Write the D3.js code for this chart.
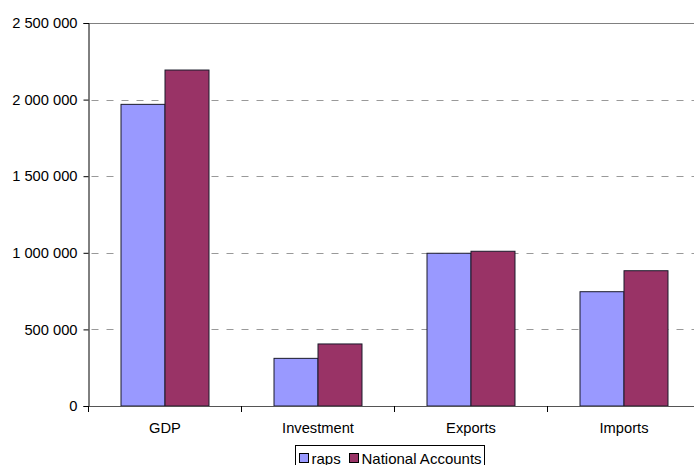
<!DOCTYPE html>
<html>
<head>
<meta charset="utf-8">
<script src="https://cdn.jsdelivr.net/npm/d3@7"></script>
<style>
  body { margin: 0; background: #fff; }
  svg { display: block; font-family: "Liberation Sans", Arial, sans-serif; }
</style>
</head>
<body>
<div id="chart"></div>
<script>
// data
var categories = ["GDP", "Investment", "Exports", "Imports"];
var seriesNames = ["raps", "National Accounts"];
var rapsValues = [1969000, 311000, 997000, 746000];
var naValues = [2193000, 405000, 1010000, 883000];
var yTicks = [0, 500000, 1000000, 1500000, 2000000, 2500000];
var colors = ["#9999ff", "#993366"];

var width = 694, height = 465;
var plotLeft = 88.5, plotRight = 700.5, plotTop = 23, plotBottom = 406;

var svg = d3.select("#chart").append("svg")
    .attr("width", width)
    .attr("height", height);

var x = d3.scaleBand().domain(categories).range([plotLeft, plotRight]).padding(0);
var x1 = d3.scaleBand().domain(seriesNames).range([0, x.bandwidth()]).paddingInner(0).paddingOuter(0.739);
var y = d3.scaleLinear().domain([0, 2500000]).range([plotBottom, plotTop]);

var fmt = function (v) { return d3.format(",")(v).replace(/,/g, " "); };

// grid lines
svg.append("g")
    .selectAll("line")
    .data(yTicks.filter(d => d > 0))
    .join("line")
    .attr("x1", plotLeft)
    .attr("x2", width)
    .attr("y1", d => Math.round(y(d)) + 0.5)
    .attr("y2", d => Math.round(y(d)) + 0.5)
    .attr("stroke", d => d == 2500000 ? "#808080" : "#999")
    .attr("stroke-dasharray", d => d == 2500000 ? null : "7,8")
    .attr("stroke-dashoffset", -3);

// bars
var rows = categories.map((c, i) => ({ cat: c, vals: [rapsValues[i], naValues[i]] }));
svg.append("g")
    .selectAll("g")
    .data(rows)
    .join("g")
    .attr("transform", d => `translate(${x(d.cat)},0)`)
    .selectAll("rect")
    .data(d => d.vals.map((v, j) => ({ name: seriesNames[j], v: v, j: j })))
    .join("rect")
    .attr("x", d => x1(d.name))
    .attr("y", d => y(d.v))
    .attr("width", x1.bandwidth())
    .attr("height", d => plotBottom - y(d.v))
    .attr("fill", d => colors[d.j])
    .attr("stroke", "#1a1a2a")
    .attr("stroke-width", 1);

// y axis
var yAxis = svg.append("g")
    .attr("transform", `translate(${plotLeft},0)`)
    .call(d3.axisLeft(y).tickValues(yTicks).tickFormat(fmt).tickSize(5).tickPadding(6));
yAxis.select(".domain").attr("stroke", "#000");
yAxis.selectAll(".tick line").attr("stroke", "#000");
yAxis.selectAll("text").attr("font-size", "14.7px").attr("fill", "#000")
    .attr("font-family", "Liberation Sans, Arial, sans-serif");

// x axis
var xAxis = svg.append("g")
    .attr("transform", `translate(0,${plotBottom})`);
xAxis.append("line")
    .attr("x1", plotLeft).attr("x2", width)
    .attr("y1", 0.5).attr("y2", 0.5)
    .attr("stroke", "#555");
xAxis.selectAll("line.tk")
    .data(categories)
    .join("line")
    .attr("class", "tk")
    .attr("x1", d => x(d)).attr("x2", d => x(d))
    .attr("y1", 0).attr("y2", 6)
    .attr("stroke", "#000");
xAxis.selectAll("text")
    .data(categories)
    .join("text")
    .attr("x", d => x(d) + x.bandwidth() / 2)
    .attr("y", 27)
    .attr("text-anchor", "middle")
    .attr("font-size", "14.7px")
    .text(d => d);

// legend
var lg = svg.append("g").attr("transform", "translate(295.5,445.5)");
lg.append("rect")
    .attr("width", 189).attr("height", 25)
    .attr("fill", "#fff").attr("stroke", "#000");
var lx = [4, 54];
seriesNames.forEach((s, i) => {
    lg.append("rect")
        .attr("x", lx[i]).attr("y", 8)
        .attr("width", 9).attr("height", 9)
        .attr("fill", colors[i]).attr("stroke", "#000");
    lg.append("text")
        .attr("x", lx[i] + 12).attr("y", 18)
        .attr("font-size", "15px")
        .text(s);
});
</script>
</body>
</html>
